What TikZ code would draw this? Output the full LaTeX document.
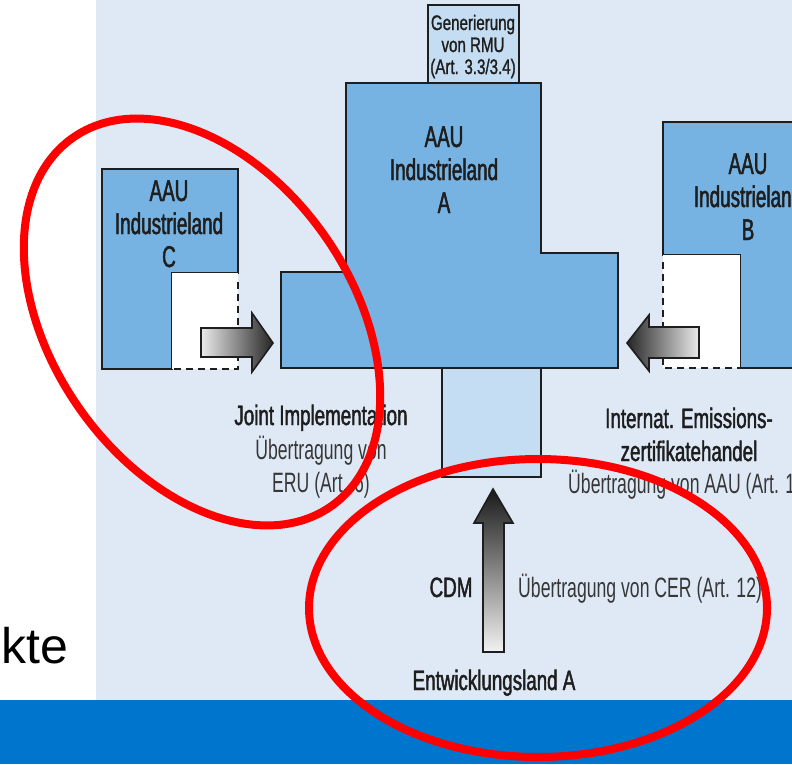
\documentclass[tikz,border=0pt]{standalone}
\usepackage{fontspec}
\setmainfont[FakeStretch=0.63]{Liberation Sans}
\newfontfamily\medfont[FakeStretch=0.63,FakeBold=1.6]{Liberation Sans}
\newfontfamily\widefont[FakeStretch=0.67,FakeBold=1.6]{Liberation Sans}
\newfontfamily\rmufont[FakeStretch=0.72,FakeBold=1.2]{Liberation Sans}
\newfontfamily\slidefont{Liberation Sans}

\definecolor{panel bg}{RGB}{223,233,246}
\definecolor{band bg}{RGB}{0,117,205}
\definecolor{land fill}{RGB}{118,178,226}
\definecolor{land light}{RGB}{197,221,242}
\definecolor{ink}{RGB}{30,30,30}
\definecolor{ink soft}{RGB}{55,55,55}

\def\landA{(346,83) -- (541,83) -- (541,253) -- (618,253) -- (618,368) -- (281,368) -- (281,272) -- (346,272) -- cycle}
\def\landC{(102,169) -- (238,169) -- (238,273) -- (172,273) -- (172,369) -- (102,369) -- cycle}
\def\landB{(663,122) -- (840,122) -- (840,368) -- (740,368) -- (740,255) -- (663,255) -- cycle}
\tikzset{land/.style={fill=land fill, draw=ink, line width=2.5pt},
    light/.style={fill=land light, draw=ink, line width=2.5pt},
    gap/.style={draw=ink, line width=2pt, dash pattern=on 7pt off 5pt},
    transfer/.style={draw=ink, line width=1.6pt, line join=miter},
    ring/.style={draw=red, line width=8pt},
    boxlabel/.style={font=\medfont\fontsize{30}{33}\selectfont, text=ink, align=center, anchor=base, inner sep=0pt},
    head/.style={font=\widefont\fontsize{28}{33}\selectfont, text=ink, align=center, anchor=base, inner sep=0pt},
    body/.style={font=\fontsize{28}{33}\selectfont, text=ink soft, align=center, anchor=base, inner sep=0pt}}

\begin{document}
\begin{tikzpicture}[x=1pt, y=-1pt]
    \useasboundingbox (0,0) rectangle (792,764);
    \fill[white] (0,0) rectangle (792,764);
    \fill[panel bg] (96,0) rectangle (792,700);
    \fill[band bg] (0,700) rectangle (792,764);
    \node[font=\slidefont\fontsize{50}{60}\selectfont, anchor=base east, inner sep=0pt] (kte) at (68,663) {kte};

    \draw[light] (428,5) rectangle (519,83);
    \draw[land] \landA;
    \draw[light] (442,368) rectangle (541,477);
    \draw[land] \landC;
    \draw[land] \landB;
    \fill[white] (172,273) rectangle (238,369);
    \fill[white] (663,255) rectangle (740,368);
    \draw[gap] (238,282) -- (238,369) -- (172,369);
    \draw[gap] (663,262) -- (663,368) -- (740,368);

    \shadedraw[transfer, left color=black!8, right color=black!85]
        (201,328) -- (252,328) -- (252,313) -- (273,343) -- (252,372) -- (252,357) -- (201,357) -- cycle;
    \shadedraw[transfer, left color=black!85, right color=black!8]
        (699,327) -- (649,327) -- (649,315) -- (627,343) -- (649,371) -- (649,358) -- (699,358) -- cycle;
    \shadedraw[transfer, top color=black!90, bottom color=black!5]
        (483,652) -- (483,523) -- (474,523) -- (493,489) -- (513,523) -- (504,523) -- (504,652) -- cycle;

    % multi-line labels sit on their last baseline
    \node[boxlabel, font=\rmufont\fontsize{21}{22}\selectfont] (rmu) at (473,74) {Generierung\\von RMU\\(Art. 3.3/3.4)};
    \node[boxlabel] (labelA) at (444,213) {AAU\\Industrieland\\A};
    \node[boxlabel] (labelC) at (169,267) {AAU\\Industrieland\\C};
    \node[boxlabel] (labelB) at (748,240) {AAU\\Industrieland\\B};

    \node[head] (ji) at (321,425) {Joint Implementation};
    \node[body] (eru) at (321,492) {Übertragung von\\ERU (Art. 6)};
    \node[head] (iet) at (689,461) {Internat. Emissions-\\zertifikatehandel};
    \node[body, anchor=base west] (aau) at (568,493) {Übertragung von AAU (Art. 17)};
    \node[head] (cdm) at (451,597) {CDM};
    \node[body, anchor=base west] (cer) at (518,597) {Übertragung von CER (Art. 12)};
    \node[head] (dev) at (494,690) {Entwicklungsland A};

    \draw[ring] (202,322) ellipse [x radius=225, y radius=150, rotate=-55];
    \draw[ring] (538,608) ellipse [x radius=229, y radius=149];
\end{tikzpicture}
\end{document}
